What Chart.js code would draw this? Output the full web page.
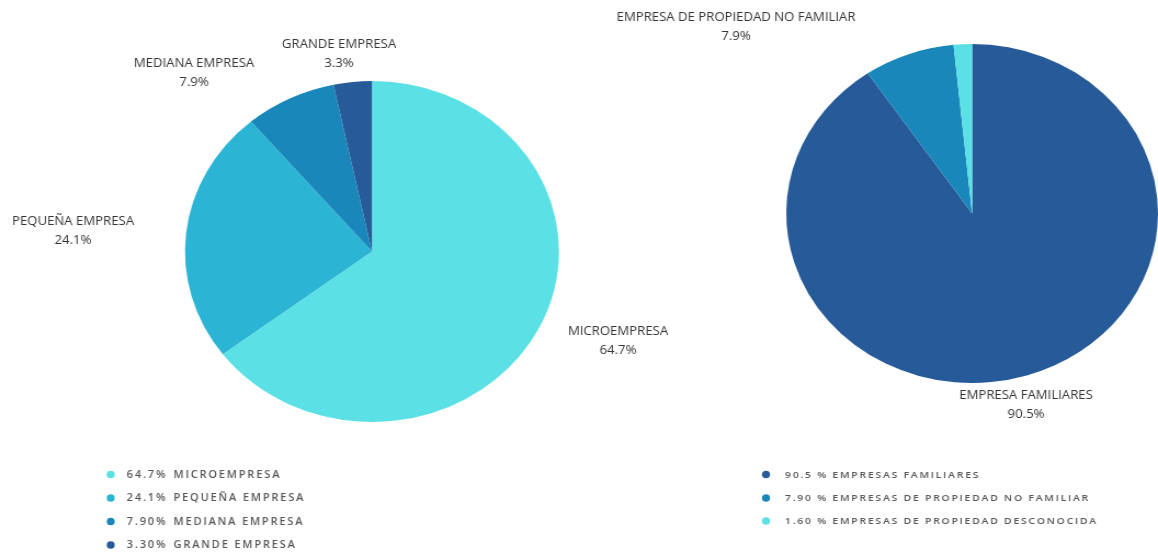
<!DOCTYPE html>
<html>
<head>
<meta charset="utf-8">
<script src="https://cdn.jsdelivr.net/npm/chart.js@4.4.1/dist/chart.umd.min.js"></script>
<style>
  html, body { margin: 0; padding: 0; background: #ffffff; }
  body { width: 1158px; height: 552px; position: relative; overflow: hidden; }
  canvas { position: absolute; top: 0; left: 0; }
</style>
</head>
<body>
<canvas id="left" width="1056" height="552" style="width:1158px;height:552px;"></canvas>
<canvas id="right" width="1056" height="552" style="width:1158px;height:552px;"></canvas>
<script>
// ---- Data ----
const leftCategories = ['MICROEMPRESA', 'PEQUEÑA EMPRESA', 'MEDIANA EMPRESA', 'GRANDE EMPRESA'];
const leftValues = [64.7, 24.1, 7.9, 3.3];
const leftLegendPct = ['64.7%', '24.1%', '7.90%', '3.30%'];
const leftLegendNames = ['MICROEMPRESA', 'PEQUEÑA EMPRESA', 'MEDIANA EMPRESA', 'GRANDE EMPRESA'];

const rightCategories = ['EMPRESA FAMILIARES', 'EMPRESA DE PROPIEDAD NO FAMILIAR', 'EMPRESA DE PROPIEDAD DESCONOCIDA'];
const rightValues = [90.5, 7.9, 1.6];
const rightLegend = ['90.5 % EMPRESAS FAMILIARES', '7.90 % EMPRESAS DE PROPIEDAD NO FAMILIAR', '1.60 % EMPRESAS DE PROPIEDAD DESCONOCIDA'];

// ---- Styles / layout ----
const leftColors = ['#5BE0E6', '#2CB4D4', '#1A87BA', '#275A98'];
const rightColors = ['#275A98', '#1A87BA', '#5BE0E6'];
const S = 1158 / 1056; // horizontal stretch of the canvases
const FONT = '"Open Sans", "Noto Sans", sans-serif';

// label anchor positions in page pixels (center x, first line y)
const leftLabelPos = [[618, 332], [73, 222], [194, 64], [339, 45]];
const rightLabelPos = [[1026, 396], [736, 18], null];

function labelPlugin(name, labelPos, legend) {
  return {
    id: 'labels_' + name,
    afterDraw(chart) {
      const ctx = chart.ctx;
      const ds = chart.data.datasets[0];
      ctx.save();
      ctx.letterSpacing = '0px';
      ctx.textAlign = 'center';
      ctx.textBaseline = 'middle';
      ctx.fillStyle = '#363636';
      ctx.font = '12px ' + FONT;
      chart.data.labels.forEach((lab, i) => {
        const p = labelPos[i];
        if (!p) return;
        const x = p[0] / S;
        ctx.fillText(lab, x, p[1]);
        ctx.fillText(ds.data[i].toFixed(1) + '%', x, p[1] + 18.5);
      });
      // legend
      ctx.textAlign = 'left';
      ctx.font = '600 ' + legend.size + 'px ' + FONT;
      ctx.letterSpacing = legend.spacing + 'px';
      legend.rows.forEach((row, i) => {
        const y = legend.y[i];
        ctx.beginPath();
        ctx.fillStyle = ds.backgroundColor[i];
        ctx.ellipse(legend.dotX / S, y, 4 / S, 3.8, 0, 0, Math.PI * 2);
        ctx.fill();
        ctx.fillStyle = '#585858';
        row.forEach((t, k) => {
          ctx.fillText(t, legend.textX[k] / S, y + 0.5);
        });
      });
      ctx.restore();
    }
  };
}

function makePie(id, labels, values, colors, padding, labelPos, legend) {
  return new Chart(document.getElementById(id), {
    type: 'pie',
    data: {
      labels: labels,
      datasets: [{
        data: values,
        backgroundColor: colors,
        borderWidth: 0,
        hoverOffset: 0
      }]
    },
    options: {
      responsive: false,
      animation: false,
      layout: { padding: padding },
      plugins: { legend: { display: false }, tooltip: { enabled: false } }
    },
    plugins: [labelPlugin(id, labelPos, legend)]
  });
}

makePie('left', leftCategories, leftValues, leftColors,
  { left: 168.7, right: 546.3, top: 81, bottom: 130 },
  leftLabelPos,
  {
    dotX: 110.7,
    textX: [126.7, 173.5],
    y: [474.5, 498, 521.5, 545],
    size: 10,
    spacing: 1.7,
    rows: leftLegendPct.map((p, i) => [p, leftLegendNames[i]])
  });

makePie('right', rightCategories, rightValues, rightColors,
  { left: 717, right: 0, top: 44, bottom: 169 },
  rightLabelPos,
  {
    dotX: 766,
    textX: [785],
    y: [474.5, 498, 521],
    size: 9.5,
    spacing: 1.6,
    rows: rightLegend.map(t => [t])
  });
</script>
</body>
</html>
